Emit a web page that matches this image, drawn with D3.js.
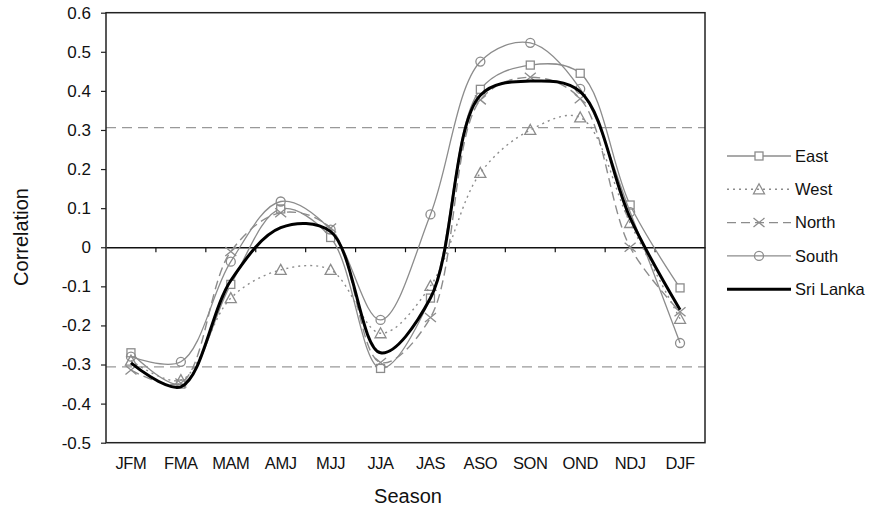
<!DOCTYPE html>
<html><head><meta charset="utf-8">
<script src="https://cdn.jsdelivr.net/npm/d3@7/dist/d3.min.js"></script>
<style>body{margin:0;background:#fff}svg{display:block;font-family:"Liberation Sans",Arial,sans-serif}</style>
</head><body><svg id="c" width="869" height="508"></svg>
<script>
const seasons = ["JFM","FMA","MAM","AMJ","MJJ","JJA","JAS","ASO","SON","OND","NDJ","DJF"];
const east     = [-0.27, -0.35, -0.095, 0.098, 0.025, -0.31, -0.13, 0.404, 0.466, 0.445, 0.108, -0.104];
const west     = [-0.29, -0.34, -0.13, -0.058, -0.058, -0.22, -0.099, 0.19, 0.30, 0.332, 0.062, -0.183];
const north    = [-0.314, -0.347, -0.011, 0.088, 0.049, -0.295, -0.18, 0.377, 0.435, 0.38, 0.0, -0.165];
const south    = [-0.28, -0.293, -0.037, 0.117, 0.045, -0.186, 0.084, 0.475, 0.523, 0.405, 0.09, -0.245];
const sriLanka = [-0.296, -0.357, -0.085, 0.05, 0.04, -0.27, -0.13, 0.389, 0.425, 0.398, 0.075, -0.16];
const yTicks = [0.6,0.5,0.4,0.3,0.2,0.1,0,-0.1,-0.2,-0.3,-0.4,-0.5];
const sigLevel = 0.306;

const series = [
  {name:"East", values:east, dash:null, marker:"square", color:"#8c8c8c", width:1.3},
  {name:"West", values:west, dash:"2,4", marker:"triangle", color:"#8c8c8c", width:1.4},
  {name:"North", values:north, dash:"9,5", marker:"cross", color:"#8c8c8c", width:1.4},
  {name:"South", values:south, dash:null, marker:"circle", color:"#8c8c8c", width:1.3},
  {name:"Sri Lanka", values:sriLanka, dash:null, marker:null, color:"#000", width:3}
];

const L=106, R=705, T=12.7, B=442.7;
const svg = d3.select("#c");
const x = d3.scaleBand().domain(seasons).range([L,R]).paddingInner(0).paddingOuter(0);
const xc = d => x(d)+x.bandwidth()/2;
const y = d3.scaleLinear().domain([-0.5,0.6]).range([B,T]);

// significance lines
[sigLevel,-sigLevel].forEach(v=>{
  svg.append("line").attr("x1",L).attr("x2",R).attr("y1",y(v)).attr("y2",y(v))
    .attr("stroke","#999").attr("stroke-width",1.3).attr("stroke-dasharray","10,6");
});

// y axis
const yAxis = d3.axisLeft(y).tickValues(yTicks).tickSize(5).tickPadding(10)
  .tickFormat(d=> d===0 ? "0" : d3.format(".1f")(d).replace("\u2212","-"));
const ga = svg.append("g").attr("transform",`translate(${L},0)`).call(yAxis);
ga.select(".domain").remove();
ga.selectAll("line").attr("stroke","#222").attr("stroke-width",1.2);
ga.selectAll("text").attr("font-size",17).attr("fill","#111").attr("font-family","Liberation Sans, Arial, sans-serif");

// zero line with category ticks
const xAxis = d3.axisBottom(x).tickSize(0).tickFormat("");
const gz = svg.append("g").attr("transform",`translate(0,${y(0)})`).call(xAxis);
gz.select(".domain").attr("stroke","#111").attr("stroke-width",1.5);
gz.selectAll(".tick").remove();
seasons.slice(1).forEach(s=>{
  gz.append("line").attr("x1",x(s)).attr("x2",x(s)).attr("y1",0).attr("y2",5)
    .attr("stroke","#111").attr("stroke-width",1.2);
});

// category labels at bottom
const gb = svg.append("g").attr("transform",`translate(0,${B})`)
  .call(d3.axisBottom(x).tickSize(0).tickPadding(15));
gb.select(".domain").remove();
gb.selectAll("text").attr("font-size",16.5).attr("fill","#111").attr("letter-spacing","-0.4")
  .attr("font-family","Liberation Sans, Arial, sans-serif");

// frame
svg.append("rect").attr("x",L).attr("y",T).attr("width",R-L).attr("height",B-T)
  .attr("fill","none").attr("stroke","#222").attr("stroke-width",1.5);

// lines
const line = d3.line().x((d,i)=>xc(seasons[i])).y(d=>y(d)).curve(d3.curveCatmullRom.alpha(0.5));
function drawMarker(g, type, cx, cy, color){
  const s=4;
  if(type==="square") g.append("rect").attr("x",cx-s).attr("y",cy-s).attr("width",2*s).attr("height",2*s)
      .attr("fill","#fff").attr("stroke",color).attr("stroke-width",1.3);
  else if(type==="circle") g.append("circle").attr("cx",cx).attr("cy",cy).attr("r",4.5)
      .attr("fill","none").attr("stroke",color).attr("stroke-width",1.3);
  else if(type==="triangle") g.append("path").attr("d",`M${cx},${cy-5.5}L${cx+5.5},${cy+4.5}L${cx-5.5},${cy+4.5}Z`)
      .attr("fill","none").attr("stroke",color).attr("stroke-width",1.3);
  else if(type==="cross") g.append("path").attr("d",`M${cx-5.5},${cy-4.5}L${cx+5.5},${cy+4.5}M${cx-5.5},${cy+4.5}L${cx+5.5},${cy-4.5}`)
      .attr("fill","none").attr("stroke",color).attr("stroke-width",1.3);
}
series.forEach(s=>{
  const g = svg.append("g");
  g.append("path").attr("d",line(s.values)).attr("fill","none").attr("stroke",s.color)
    .attr("stroke-width",s.width).attr("stroke-dasharray",s.dash);
  if(s.marker) s.values.forEach((v,i)=>drawMarker(g,s.marker,xc(seasons[i]),y(v),s.color));
});

// legend
const lg = svg.append("g");
series.forEach((s,i)=>{
  const ly = 156 + i*33.3;
  lg.append("line").attr("x1",727).attr("x2",791).attr("y1",ly).attr("y2",ly)
    .attr("stroke",s.color).attr("stroke-width",s.width).attr("stroke-dasharray",s.dash);
  if(s.marker) drawMarker(lg,s.marker,759,ly,s.color);
  lg.append("text").attr("x",795).attr("y",ly).attr("dy","0.35em").attr("font-size",16.5)
    .attr("fill","#111").text(s.name);
});

// titles
svg.append("text").attr("x",408).attr("y",503).attr("text-anchor","middle").attr("font-size",20)
  .attr("fill","#111").text("Season");
svg.append("text").attr("transform","translate(28,237) rotate(-90)").attr("text-anchor","middle")
  .attr("font-size",20).attr("fill","#111").text("Correlation");
</script></body></html>
